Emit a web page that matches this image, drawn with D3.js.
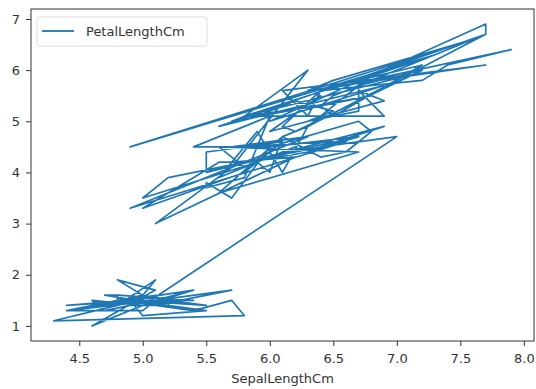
<!DOCTYPE html>
<html lang="en">
<head>
    <meta charset="UTF-8">
    <title>SepalLengthCm vs PetalLengthCm</title>
    <script src="https://d3js.org/d3.v7.min.js"></script>
    <style>
        body { margin: 0; background: #fff; }
        text {
            font-family: "DejaVu Sans", sans-serif;
            fill: #333;
        }
        .axis path, .axis line { stroke: #333; }
    </style>
</head>
<body>
    <svg width="536" height="389"></svg>

    <script>
        // Iris dataset, row order (SepalLengthCm -> x, PetalLengthCm -> y)
        const sepalLength = [
            5.1,4.9,4.7,4.6,5.0,5.4,4.6,5.0,4.4,4.9,5.4,4.8,4.8,4.3,5.8,5.7,5.4,5.1,5.7,5.1,
            5.4,5.1,4.6,5.1,4.8,5.0,5.0,5.2,5.2,4.7,4.8,5.4,5.2,5.5,4.9,5.0,5.5,4.9,4.4,5.1,
            5.0,4.5,4.4,5.0,5.1,4.8,5.1,4.6,5.3,5.0,
            7.0,6.4,6.9,5.5,6.5,5.7,6.3,4.9,6.6,5.2,5.0,5.9,6.0,6.1,5.6,6.7,5.6,5.8,6.2,5.6,
            5.9,6.1,6.3,6.1,6.4,6.6,6.8,6.7,6.0,5.7,5.5,5.5,5.8,6.0,5.4,6.0,6.7,6.3,5.6,5.5,
            5.5,6.1,5.8,5.0,5.6,5.7,5.7,6.2,5.1,5.7,
            6.3,5.8,7.1,6.3,6.5,7.6,4.9,7.3,6.7,7.2,6.5,6.4,6.8,5.7,5.8,6.4,6.5,7.7,7.7,6.0,
            6.9,5.6,7.7,6.3,6.7,7.2,6.2,6.1,6.4,7.2,7.4,7.9,6.4,6.3,6.1,7.7,6.3,6.4,6.0,6.9,
            6.7,6.9,5.8,6.8,6.7,6.7,6.3,6.5,6.2,5.9
        ];
        const petalLength = [
            1.4,1.4,1.3,1.5,1.4,1.7,1.4,1.5,1.4,1.5,1.5,1.6,1.4,1.1,1.2,1.5,1.3,1.4,1.7,1.5,
            1.7,1.5,1.0,1.7,1.9,1.6,1.6,1.5,1.4,1.6,1.6,1.5,1.5,1.4,1.5,1.2,1.3,1.5,1.3,1.5,
            1.3,1.3,1.3,1.6,1.9,1.4,1.6,1.4,1.5,1.4,
            4.7,4.5,4.9,4.0,4.6,4.5,4.7,3.3,4.6,3.9,3.5,4.2,4.0,4.7,3.6,4.4,4.5,4.1,4.5,3.9,
            4.8,4.0,4.9,4.7,4.3,4.4,4.8,5.0,4.5,3.5,3.8,3.7,3.9,5.1,4.5,4.5,4.7,4.4,4.1,4.0,
            4.4,4.6,4.0,3.3,4.2,4.2,4.2,4.3,3.0,4.1,
            6.0,5.1,5.9,5.6,5.8,6.6,4.5,6.3,5.8,6.1,5.1,5.3,5.5,5.0,5.1,5.3,5.5,6.7,6.9,5.0,
            5.7,4.9,6.7,4.9,5.7,6.0,4.8,4.9,5.6,5.8,6.1,6.4,5.6,5.1,5.6,6.1,5.6,5.5,4.8,5.4,
            5.6,5.1,5.1,5.9,5.7,5.2,5.0,5.2,5.4,5.1
        ];
        const xTicks = [4.5, 5.0, 5.5, 6.0, 6.5, 7.0, 7.5, 8.0];
        const yTicks = [1, 2, 3, 4, 5, 6, 7];
        const seriesName = "PetalLengthCm";
        const xLabel = "SepalLengthCm";

        const svg = d3.select("svg");
        const margin = { left: 31, right: 2, top: 9, bottom: 48 };
        const width = 536, height = 389;
        const color = "#1f77b4";

        const x = d3.scaleLinear().domain([4.12, 8.08])
            .range([margin.left, width - margin.right]);
        const y = d3.scaleLinear().domain([0.705, 7.195])
            .range([height - margin.bottom, margin.top]);

        const points = sepalLength.map((v, i) => [v, petalLength[i]]);

        svg.append("path")
            .datum(points)
            .attr("fill", "none")
            .attr("stroke", color)
            .attr("stroke-width", 1.7)
            .attr("stroke-linejoin", "round")
            .attr("d", d3.line().x(d => x(d[0])).y(d => y(d[1])));

        // frame
        svg.append("rect")
            .attr("x", margin.left).attr("y", margin.top)
            .attr("width", width - margin.right - margin.left)
            .attr("height", height - margin.bottom - margin.top)
            .attr("fill", "none").attr("stroke", "#333").attr("stroke-width", 1);

        const xAxis = svg.append("g")
            .attr("class", "axis")
            .attr("transform", `translate(0,${height - margin.bottom})`)
            .call(d3.axisBottom(x).tickValues(xTicks).tickFormat(d3.format(".1f")).tickSize(5).tickPadding(8));
        xAxis.select(".domain").remove();
        xAxis.selectAll("text").attr("font-size", 13).attr("fill", "#333");

        const yAxis = svg.append("g")
            .attr("class", "axis")
            .attr("transform", `translate(${margin.left},0)`)
            .call(d3.axisLeft(y).tickValues(yTicks).tickFormat(d3.format("d")).tickSize(5).tickPadding(6));
        yAxis.select(".domain").remove();
        yAxis.selectAll("text").attr("font-size", 13).attr("fill", "#333");

        svg.append("text")
            .attr("x", (margin.left + width - margin.right) / 2)
            .attr("y", height - 6)
            .attr("text-anchor", "middle")
            .attr("font-size", 13)
            .text(xLabel);

        // legend
        const lg = svg.append("g").attr("transform", `translate(${margin.left + 6},${margin.top + 8})`);
        lg.append("rect")
            .attr("width", 170).attr("height", 29).attr("rx", 3)
            .attr("fill", "#fff").attr("stroke", "#ddd");
        lg.append("line")
            .attr("x1", 5).attr("x2", 37).attr("y1", 14).attr("y2", 14)
            .attr("stroke", color).attr("stroke-width", 1.8);
        lg.append("text")
            .attr("x", 49).attr("y", 19)
            .attr("font-size", 13)
            .text(seriesName);
    </script>
</body>
</html>
